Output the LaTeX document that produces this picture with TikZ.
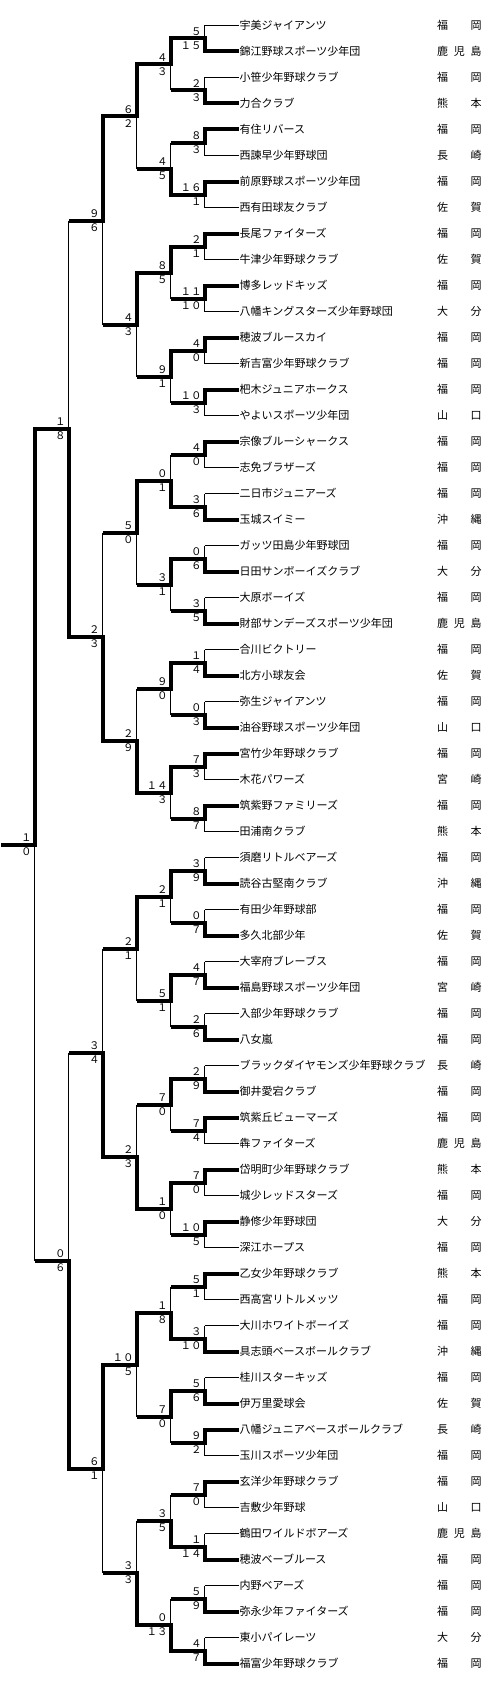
\documentclass[tikz,border=0pt]{standalone}
\usepackage{fontspec}
\setmainfont{Noto Sans CJK JP}
\tikzset{
  thinln/.style={line width=1pt},
  thickh/.style={line width=4pt},
  thickv/.style={line width=4pt, line cap=rect},
  score/.style={inner sep=0pt, font=\fontsize{10.5pt}{10.5pt}\selectfont},
  team/.style={inner sep=0pt, anchor=west, font=\fontsize{11pt}{11pt}\selectfont, text height=9.5pt, text depth=1.5pt},
  pref/.style={inner sep=0pt, anchor=center, font=\fontsize{11pt}{11pt}\selectfont, text height=9.5pt, text depth=1.5pt},
}
\newcommand\bmatch[5]{%
  \pgfmathtruncatemacro\bmpr{#1-1}%
  \pgfmathtruncatemacro\bmca{2*#2-1}%
  \pgfmathtruncatemacro\bmcb{2*#2}%
  \ifnum#5=0 \def\bmvsa{thickv}\def\bmvsb{thinln}\else\def\bmvsa{thinln}\def\bmvsb{thickv}\fi
  \ifnum#1>1 \def\bmhsa{thickh}\def\bmhsb{thickh}\else
    \ifnum#5=0 \def\bmhsa{thickh}\def\bmhsb{thinln}\else\def\bmhsa{thinln}\def\bmhsb{thickh}\fi
  \fi
  \draw[\bmhsa] (n\bmpr-\bmca) -- (n\bmpr-\bmca -| n#1-#2);
  \draw[\bmhsb] (n\bmpr-\bmcb) -- (n\bmpr-\bmcb -| n#1-#2);
  \draw[\bmvsa] (n\bmpr-\bmca -| n#1-#2) -- (n#1-#2);
  \draw[\bmvsb] (n\bmpr-\bmcb -| n#1-#2) -- (n#1-#2);
  \node[score,anchor=east] (s#1-#2t) at ([xshift=-2.8pt,yshift=6.8pt]n#1-#2) {#3};
  \node[score,anchor=east] (s#1-#2b) at ([xshift=-2.8pt,yshift=-7pt]n#1-#2) {#4};
}
\begin{document}
\begin{tikzpicture}[x=1pt,y=-1pt]
\fill[white] (0,0) rectangle (499,1691);
\useasboundingbox (0,0) rectangle (499,1691);
% coordinates
\foreach \i in {1,...,64} { \coordinate (n0-\i) at (238.5,{25.5+26*(\i-1)}); }
\foreach \r in {1,...,6} {
  \pgfmathtruncatemacro\nk{2^(6-\r)}
  \foreach \k in {1,...,\nk} {
    \coordinate (n\r-\k) at ({204.5-34*(\r-1)},{25.5+26*(\k-1)*2^\r+13*(2^\r-1)});
  }
}
\coordinate (champ) at (0.5,844.5);
% teams
\def\dashmark{-}
\foreach \i/\name/\pa/\pb/\pc in {
1/宇美ジャイアンツ/福/-/岡,
2/錦江野球スポーツ少年団/鹿/児/島,
3/小笹少年野球クラブ/福/-/岡,
4/力合クラブ/熊/-/本,
5/有住リバース/福/-/岡,
6/西諫早少年野球団/長/-/崎,
7/前原野球スポーツ少年団/福/-/岡,
8/西有田球友クラブ/佐/-/賀,
9/長尾ファイターズ/福/-/岡,
10/牛津少年野球クラブ/佐/-/賀,
11/博多レッドキッズ/福/-/岡,
12/八幡キングスターズ少年野球団/大/-/分,
13/穂波ブルースカイ/福/-/岡,
14/新吉富少年野球クラブ/福/-/岡,
15/杷木ジュニアホークス/福/-/岡,
16/やよいスポーツ少年団/山/-/口,
17/宗像ブルーシャークス/福/-/岡,
18/志免ブラザーズ/福/-/岡,
19/二日市ジュニアーズ/福/-/岡,
20/玉城スイミー/沖/-/縄,
21/ガッツ田島少年野球団/福/-/岡,
22/日田サンボーイズクラブ/大/-/分,
23/大原ボーイズ/福/-/岡,
24/財部サンデーズスポーツ少年団/鹿/児/島,
25/合川ビクトリー/福/-/岡,
26/北方小球友会/佐/-/賀,
27/弥生ジャイアンツ/福/-/岡,
28/油谷野球スポーツ少年団/山/-/口,
29/宮竹少年野球クラブ/福/-/岡,
30/木花パワーズ/宮/-/崎,
31/筑紫野ファミリーズ/福/-/岡,
32/田浦南クラブ/熊/-/本,
33/須磨リトルベアーズ/福/-/岡,
34/読谷古堅南クラブ/沖/-/縄,
35/有田少年野球部/福/-/岡,
36/多久北部少年/佐/-/賀,
37/大宰府ブレーブス/福/-/岡,
38/福島野球スポーツ少年団/宮/-/崎,
39/入部少年野球クラブ/福/-/岡,
40/八女嵐/福/-/岡,
41/ブラックダイヤモンズ少年野球クラブ/長/-/崎,
42/御井愛宕クラブ/福/-/岡,
43/筑紫丘ビューマーズ/福/-/岡,
44/犇ファイターズ/鹿/児/島,
45/岱明町少年野球クラブ/熊/-/本,
46/城少レッドスターズ/福/-/岡,
47/静修少年野球団/大/-/分,
48/深江ホープス/福/-/岡,
49/乙女少年野球クラブ/熊/-/本,
50/西高宮リトルメッツ/福/-/岡,
51/大川ホワイトボーイズ/福/-/岡,
52/具志頭ベースボールクラブ/沖/-/縄,
53/桂川スターキッズ/福/-/岡,
54/伊万里愛球会/佐/-/賀,
55/八幡ジュニアベースボールクラブ/長/-/崎,
56/玉川スポーツ少年団/福/-/岡,
57/玄洋少年野球クラブ/福/-/岡,
58/吉敷少年野球/山/-/口,
59/鶴田ワイルドボアーズ/鹿/児/島,
60/穂波ベーブルース/福/-/岡,
61/内野ベアーズ/福/-/岡,
62/弥永少年ファイターズ/福/-/岡,
63/東小パイレーツ/大/-/分,
64/福富少年野球クラブ/福/-/岡} {
  \node[team] (t\i) at ([xshift=1pt]n0-\i) {\name};
  \node[pref] (pa\i) at (442.7,{25.5+26*(\i-1)}) {\pa};
  \ifx\pb\dashmark\else
  \node[pref] (pb\i) at (459.3,{25.5+26*(\i-1)}) {\pb};
  \fi
  \node[pref] (pc\i) at (476,{25.5+26*(\i-1)}) {\pc};
}
% round 1
\bmatch{1}{1}{５}{１５}{1}
\bmatch{1}{2}{２}{３}{1}
\bmatch{1}{3}{８}{３}{0}
\bmatch{1}{4}{１６}{１}{0}
\bmatch{1}{5}{２}{１}{0}
\bmatch{1}{6}{１１}{１０}{0}
\bmatch{1}{7}{４}{０}{0}
\bmatch{1}{8}{１０}{３}{0}
\bmatch{1}{9}{４}{０}{0}
\bmatch{1}{10}{３}{６}{1}
\bmatch{1}{11}{０}{６}{1}
\bmatch{1}{12}{３}{５}{1}
\bmatch{1}{13}{１}{４}{1}
\bmatch{1}{14}{０}{３}{1}
\bmatch{1}{15}{７}{３}{0}
\bmatch{1}{16}{８}{７}{0}
\bmatch{1}{17}{３}{９}{1}
\bmatch{1}{18}{０}{７}{1}
\bmatch{1}{19}{４}{７}{1}
\bmatch{1}{20}{２}{６}{1}
\bmatch{1}{21}{２}{９}{1}
\bmatch{1}{22}{７}{４}{0}
\bmatch{1}{23}{７}{０}{0}
\bmatch{1}{24}{１０}{５}{0}
\bmatch{1}{25}{５}{１}{0}
\bmatch{1}{26}{３}{１０}{1}
\bmatch{1}{27}{５}{６}{1}
\bmatch{1}{28}{９}{２}{0}
\bmatch{1}{29}{７}{０}{0}
\bmatch{1}{30}{１}{１４}{1}
\bmatch{1}{31}{５}{９}{1}
\bmatch{1}{32}{４}{７}{1}
% round 2
\bmatch{2}{1}{４}{３}{0}
\bmatch{2}{2}{４}{５}{1}
\bmatch{2}{3}{８}{５}{0}
\bmatch{2}{4}{９}{１}{0}
\bmatch{2}{5}{０}{１}{1}
\bmatch{2}{6}{３}{１}{0}
\bmatch{2}{7}{９}{０}{0}
\bmatch{2}{8}{１４}{３}{0}
\bmatch{2}{9}{２}{１}{0}
\bmatch{2}{10}{５}{１}{0}
\bmatch{2}{11}{７}{０}{0}
\bmatch{2}{12}{１}{０}{0}
\bmatch{2}{13}{１}{８}{1}
\bmatch{2}{14}{７}{０}{0}
\bmatch{2}{15}{３}{５}{1}
\bmatch{2}{16}{０}{１３}{1}
% round 3
\bmatch{3}{1}{６}{２}{0}
\bmatch{3}{2}{４}{３}{0}
\bmatch{3}{3}{５}{０}{0}
\bmatch{3}{4}{２}{９}{1}
\bmatch{3}{5}{２}{１}{0}
\bmatch{3}{6}{２}{３}{1}
\bmatch{3}{7}{１０}{５}{0}
\bmatch{3}{8}{３}{３}{1}
% round 4
\bmatch{4}{1}{９}{６}{0}
\bmatch{4}{2}{２}{３}{1}
\bmatch{4}{3}{３}{４}{1}
\bmatch{4}{4}{６}{１}{0}
% round 5
\bmatch{5}{1}{１}{８}{1}
\bmatch{5}{2}{０}{６}{1}
% final
\bmatch{6}{1}{１}{０}{0}
\draw[thickh] (n6-1) -- (champ);
\end{tikzpicture}
\end{document}
